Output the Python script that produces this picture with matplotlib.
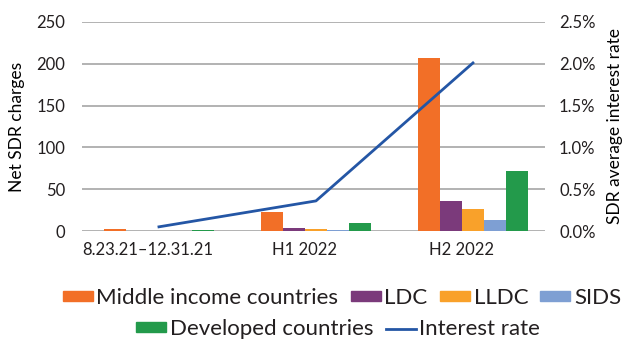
import matplotlib.pyplot as plt
import numpy as np
from matplotlib.patches import Patch
from matplotlib.lines import Line2D

periods = ['8.23.21\u201312.31.21', 'H1 2022', 'H2 2022']
series_names = ['Middle income countries', 'LDC', 'LLDC', 'SIDS', 'Developed countries']
middle_income = [2, 23, 207]
ldc = [0, 3.5, 36]
lldc = [0, 2.5, 26]
sids = [0, 1, 13]
developed = [1, 9.5, 72]
interest_rate = [0.05, 0.36, 2.01]

colors = ['#F26F27', '#7B3A7B', '#F9A12A', '#7E9FD3', '#239A4B']
line_color = '#2456A5'
grid_color = '#A6A6A6'
text_color = '#231F20'

plt.rcParams['font.family'] = ['Lato', 'DejaVu Sans']
plt.rcParams['text.color'] = text_color

fig = plt.figure(figsize=(6.31, 3.43), dpi=100)
ax = fig.add_axes([0.13, 0.3265, 0.734, 0.6095])
ax2 = ax.twinx()

x = np.arange(len(periods))
w = 0.14
all_series = [middle_income, ldc, lldc, sids, developed]
for i, vals in enumerate(all_series):
    ax.bar(x + (i - 2) * w, vals, w, color=colors[i], zorder=3)

ax2.plot(x, interest_rate, color=line_color, lw=2, zorder=4)

ax.set_ylim(0, 250)
ax.set_yticks(range(0, 251, 50))
ax2.set_ylim(0, 2.5)
ax2.set_yticks(np.arange(0, 2.51, 0.5))
ax2.set_yticklabels(['%.1f%%' % v for v in np.arange(0, 2.51, 0.5)])
ax.set_xlim(-0.49, 2.46)
ax.set_xticks(x - 0.07)
ax.set_xticklabels(periods)

for a in (ax, ax2):
    for s in a.spines.values():
        s.set_visible(False)
    a.tick_params(length=0, labelsize=12, colors=text_color)
ax.tick_params(axis='y', pad=12)
ax2.tick_params(axis='y', pad=10)
ax.tick_params(axis='x', pad=8)
ax.grid(axis='y', color=grid_color, lw=1.2, zorder=0)
ax.set_axisbelow(True)

ax.set_ylabel('Net SDR charges', fontsize=12.5, labelpad=8)
ax2.set_ylabel('SDR average interest rate', fontsize=12.5, labelpad=8)

leg_kw = dict(loc='center', frameon=False, fontsize=16, handlelength=1.35, handleheight=0.3,
              handletextpad=0.17, columnspacing=0.55, borderaxespad=0, borderpad=0)
h1 = [Patch(color=colors[i]) for i in range(4)]
fig.legend(h1, series_names[:4], bbox_to_anchor=(0.542, 0.131), ncol=4, **leg_kw)
h2 = [Patch(color=colors[4]), Line2D([], [], color=line_color, lw=2)]
fig.legend(h2, [series_names[4], 'Interest rate'], bbox_to_anchor=(0.536, 0.04), ncol=2, **leg_kw)

fig.savefig('out.png', dpi=100)
